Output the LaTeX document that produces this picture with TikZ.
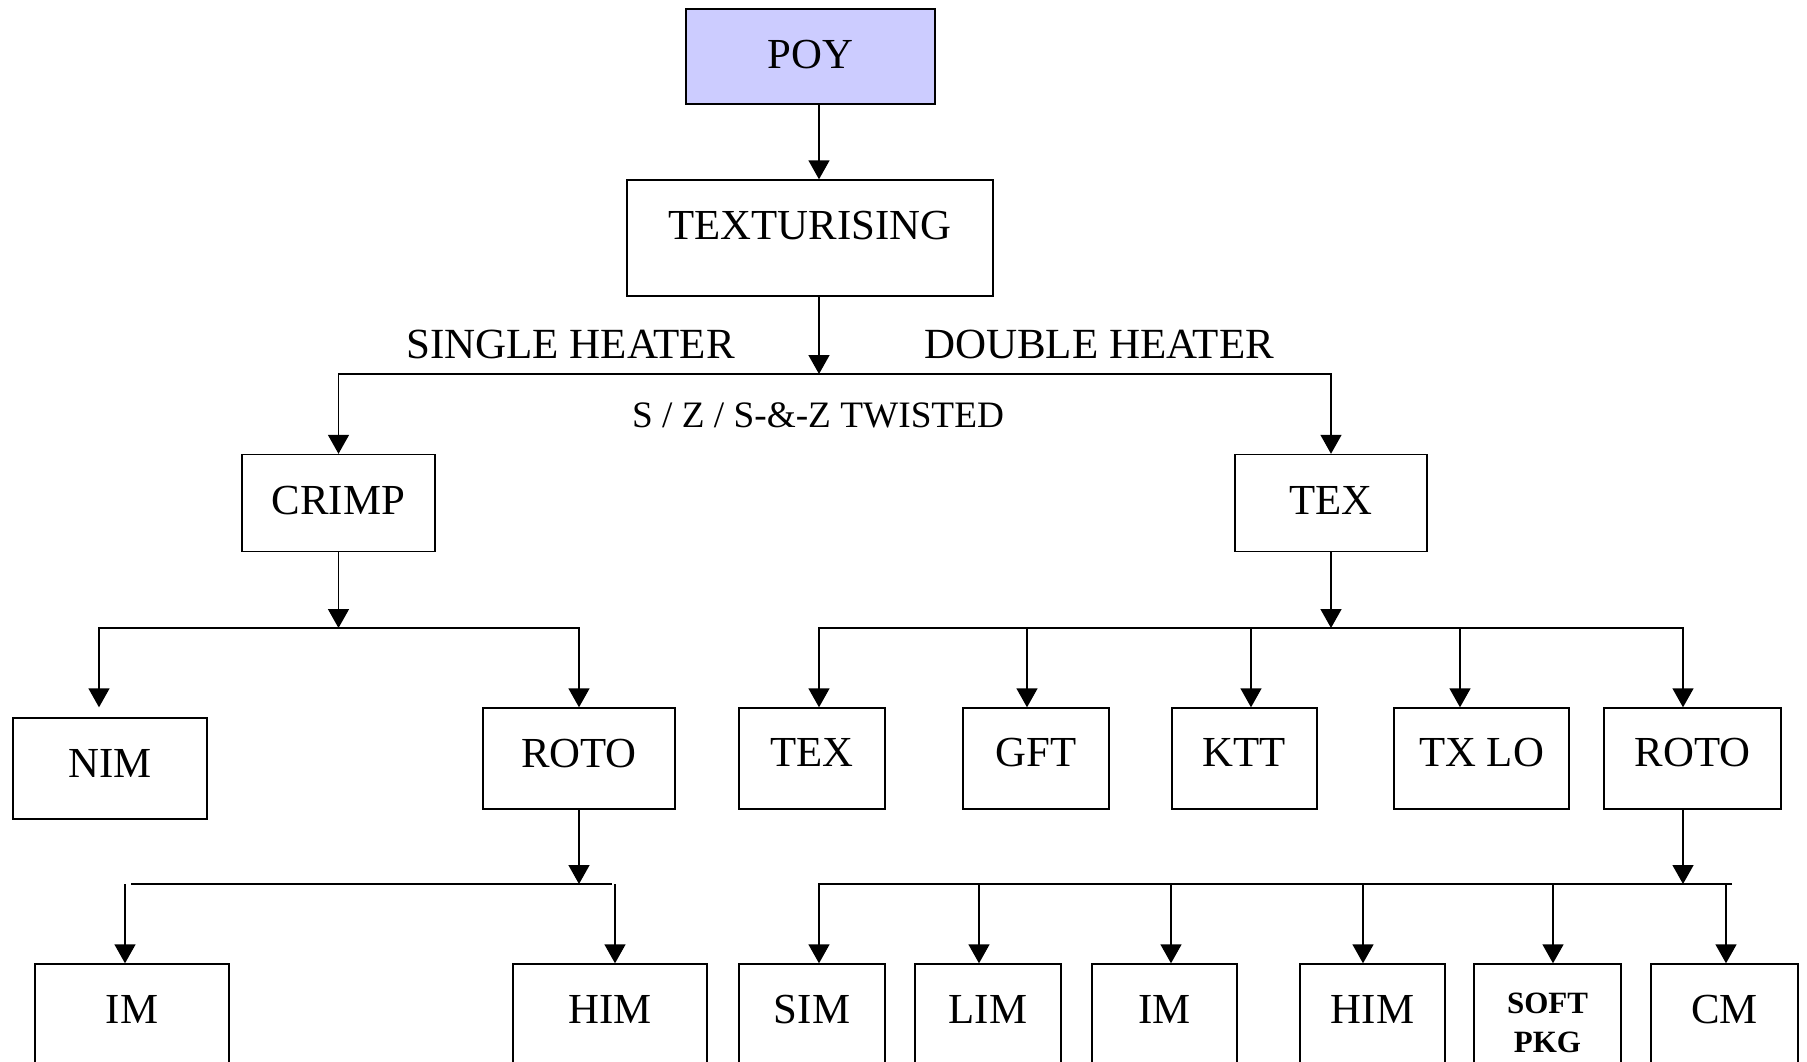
\documentclass[tikz,border=0pt]{standalone}
\usepackage{fontspec}
\setmainfont{Liberation Serif}
\usetikzlibrary{arrows.meta}
\definecolor{poyblue}{HTML}{CCCCFF}
\begin{document}
\begin{tikzpicture}[x=1pt,y=-1pt,
  box/.style={draw, line width=1.4pt, inner sep=0pt, font=\fontsize{42.8}{51}\selectfont, text height=28.3pt, text depth=#1},
  box/.default=10pt,
  ln/.style={line width=1.5pt},
  arr/.style={line width=1.5pt, -{Triangle[length=19pt,width=21pt]}},
  lbl/.style={font=\fontsize{43}{51}\selectfont, inner sep=0pt}]
\useasboundingbox (0,0) rectangle (1807,1062);
\clip (0,0) rectangle (1807,1062);
\fill[white] (0,0) rectangle (1807,1062);

% level 0-1
\node[box=5pt, fill=poyblue, minimum width=249pt, minimum height=95pt] (poy) at (810.5,56.5) {POY};
\node[box=26pt, minimum width=366pt, minimum height=116pt] (tx) at (810,238) {TEXTURISING};
\node[lbl] (single) at (570.5,344) {SINGLE HEATER};
\node[lbl] (double) at (1099,344) {DOUBLE HEATER};
\node[font=\fontsize{37.3}{44}\selectfont, inner sep=0pt] (twist) at (818,415) {S / Z / S-\&-Z TWISTED};

% level 2
\node[box=5pt, minimum width=193pt, minimum height=97pt] (crimp) at (338.5,503) {CRIMP};
\node[box=5pt, minimum width=192pt, minimum height=97pt] (tex) at (1331,503) {TEX};

% level 3
\node[box=11pt, minimum width=194pt, minimum height=101pt] (nim) at (110,768.5) {NIM};
\node[box=11pt, minimum width=192pt, minimum height=101pt] (rotoa) at (579,758.5) {ROTO};
\node[box=12pt, minimum width=146pt, minimum height=101pt] (tex2) at (812,758.5) {TEX};
\node[box=12pt, minimum width=146pt, minimum height=101pt] (gft) at (1036,758.5) {GFT};
\node[box=12pt, minimum width=145pt, minimum height=101pt] (ktt) at (1244.5,758.5) {KTT};
\node[box=12pt, minimum width=175pt, minimum height=101pt] (txlo) at (1481.5,758.5) {TX LO};
\node[box=12pt, minimum width=177pt, minimum height=101pt] (rotob) at (1692.5,758.5) {ROTO};

% level 4
\node[box=46pt, minimum width=194pt, minimum height=136pt] (ima) at (132,1032) {IM};
\node[box=46pt, minimum width=194pt, minimum height=136pt] (hima) at (610,1032) {HIM};
\node[box=46pt, minimum width=146pt, minimum height=136pt] (sim) at (812,1032) {SIM};
\node[box=46pt, minimum width=146pt, minimum height=136pt] (lim) at (988,1032) {LIM};
\node[box=46pt, minimum width=145pt, minimum height=136pt] (imb) at (1164.5,1032) {IM};
\node[box=46pt, minimum width=145pt, minimum height=136pt] (himb) at (1372.5,1032) {HIM};
\node[box=46pt, minimum width=147pt, minimum height=136pt] (soft) at (1547.5,1032) {};
\node[font=\bfseries\fontsize{31}{39}\selectfont, align=center, inner sep=0pt] (softlbl) at (1547.5,1022.5) {SOFT\\PKG};
\node[box=46pt, minimum width=147pt, minimum height=136pt] (cm) at (1724.5,1032) {CM};

% connectors level 0-2
\coordinate (j1) at (819,374);
\draw[arr] (poy.south -| j1) -- (tx.north -| j1);
\draw[arr] (tx.south -| j1) -- (j1);
\draw[arr] (j1) -| (crimp.north);
\draw[arr] (j1) -| (tex.north);

% crimp branch
\coordinate (j2) at (338.5,628);
\coordinate (tnim) at (99,628);
\draw[arr] (crimp.south) -- (j2);
\draw[arr] (j2) -| (tnim |- rotoa.north);
\draw[arr] (j2) -| (rotoa.north);

% tex branch
\coordinate (j3) at (1331,628);
\coordinate (ta) at (819,628);
\coordinate (tb) at (1027,628);
\coordinate (tc) at (1251,628);
\coordinate (td) at (1460,628);
\coordinate (te) at (1683,628);
\draw[arr] (tex.south) -- (j3);
\draw[arr] (j3) -| (ta |- tex2.north);
\draw[arr] (j3) -| (te |- rotob.north);
\draw[arr] (tb) -- (tb |- gft.north);
\draw[arr] (tc) -- (tc |- ktt.north);
\draw[arr] (td) -- (td |- txlo.north);

% left roto branch
\coordinate (j4) at (579,884);
\coordinate (b4l) at (131,884);
\coordinate (b4r) at (612,884);
\coordinate (v4l) at (125,884);
\coordinate (v4r) at (615,884);
\draw[arr] (rotoa.south) -- (j4);
\draw[ln] (b4l) -- (b4r);
\draw[arr] (v4l) -- (v4l |- ima.north);
\draw[arr] (v4r) -- (v4r |- hima.north);

% right roto branch
\coordinate (j5) at (1683,884);
\coordinate (sa) at (819,884);
\coordinate (sb) at (979,884);
\coordinate (sc) at (1171,884);
\coordinate (sd) at (1363,884);
\coordinate (se) at (1553,884);
\coordinate (sf) at (1726,884);
\coordinate (send) at (1732,884);
\draw[arr] (rotob.south -| j5) -- (j5);
\draw[arr] (send) -- (sa) -- (sa |- sim.north);
\draw[arr] (sb) -- (sb |- lim.north);
\draw[arr] (sc) -- (sc |- imb.north);
\draw[arr] (sd) -- (sd |- himb.north);
\draw[arr] (se) -- (se |- soft.north);
\draw[arr] (sf) -- (sf |- cm.north);
\end{tikzpicture}
\end{document}
